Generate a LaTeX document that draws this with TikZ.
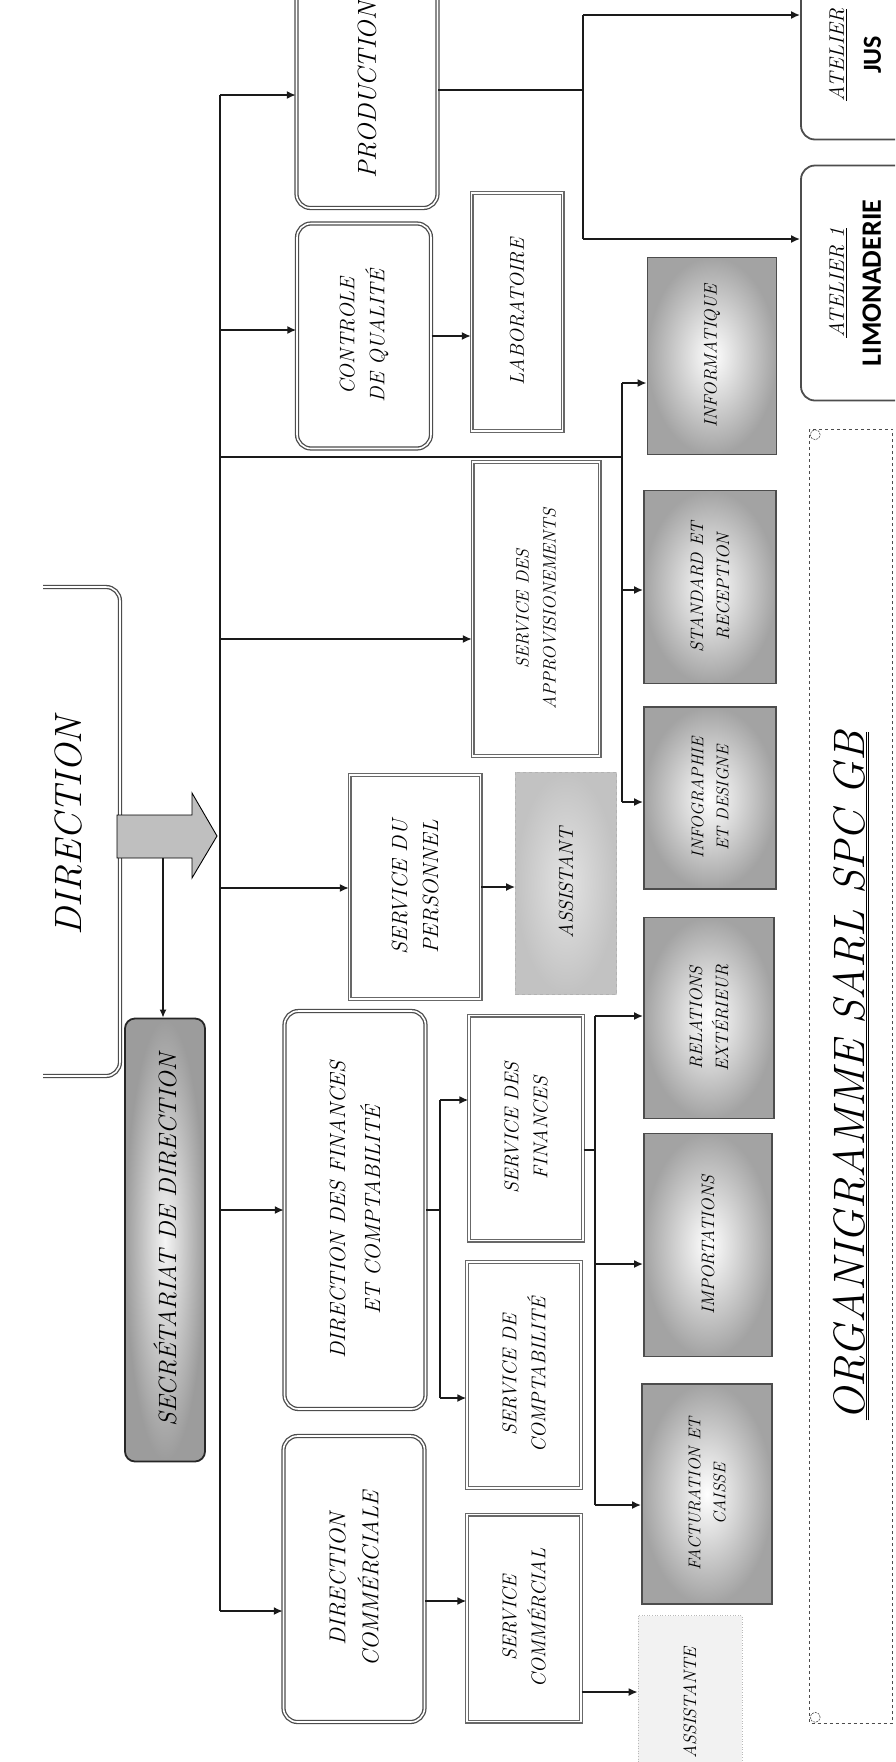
\documentclass[tikz,border=0pt]{standalone}
\usepackage{fontspec}
\newfontfamily\calib{Carlito}
\usetikzlibrary{arrows.meta}
\definecolor{FrameGray}{HTML}{4D4D4D}
\definecolor{WireBlack}{HTML}{1A1A1A}

\begin{document}
\begin{tikzpicture}[x=1pt,y=-1pt,
        txt/.style={rotate=90,align=center,inner sep=0pt,font={\itshape\fontsize{20}{29}\selectfont}},
        rbox/.style={txt,draw=FrameGray,line width=1.3pt,double=white,double distance=1.6pt,rounded corners=14pt},
        sbox/.style={txt,draw=FrameGray!85,line width=1.2pt,double=white,double distance=1.6pt},
        shbox/.style={txt,draw=FrameGray,line width=1.8pt,inner color=white,outer color=gray!72},
        secbox/.style={txt,draw=black!85,line width=1.8pt,rounded corners=10pt,inner color=gray!8,outer color=gray!78},
        abox/.style={txt,draw=gray!60,dashed,line width=0.6pt,inner color=gray!22,outer color=gray!48},
        lbox/.style={txt,draw=gray!55,dotted,line width=0.6pt,fill=gray!10},
        atbox/.style={txt,draw=FrameGray,line width=1.8pt,rounded corners=14pt},
        scroll/.style={draw=black!70,dashed,line width=0.6pt},
        dframe/.style={draw=FrameGray,line width=1.3pt,double=white,double distance=1.6pt,rounded corners=14pt},
        wire/.style={line width=2.4pt,draw=WireBlack},
        arr/.style={wire,-{Latex[length=9pt,width=8pt]}},
        thinarr/.style={line width=1.4pt,draw=WireBlack,-{Latex[length=8pt,width=7pt]}}
      ]
        \useasboundingbox (0,0) rectangle (895,1762);
        \clip (0,0) rectangle (895,1762);
        \fill[white] (0,0) rectangle (895,1762);

        % direction and secretariat
        \draw[dframe] (43,587) -- (120,587) -- (120,1076) -- (43,1076);
        \node[txt,font={\itshape\fontsize{38}{42}\selectfont}] (dir) at (69,826) {DIRECTION};
        \filldraw[draw=black,line width=0.9pt,fill=gray!50] (117,815) -- (192,815) -- (192,793) -- (217,836)
          -- (192,878) -- (192,858) -- (117,858) -- cycle;
        \coordinate (shaftBot) at (163,858);
        \node[secbox,minimum width=443pt,minimum height=80pt,font={\itshape\fontsize{25}{29}\selectfont}] (secr) at (165,1240) {SECRÉTARIAT DE DIRECTION};
        \draw[thinarr] (shaftBot) -- (shaftBot |- secr.east);

        % first level
        \node[rbox,minimum width=236pt,minimum height=141pt,font={\itshape\fontsize{26}{30}\selectfont}] (prod) at (367,90) {PRODUCTION};
        \node[rbox,minimum width=225pt,minimum height=134pt,font={\itshape\fontsize{21}{30}\selectfont}] (cq) at (364,336) {CONTROLE\\DE QUALITÉ};
        \node[sbox,minimum width=294pt,minimum height=127pt,font={\itshape\fontsize{18}{27}\selectfont}] (appro) at (536,609) {SERVICE DES\\APPROVISIONEMENTS};
        \node[sbox,minimum width=224pt,minimum height=131pt,font={\itshape\fontsize{22}{31}\selectfont}] (perso) at (415,887) {SERVICE DU\\PERSONNEL};
        \node[rbox,minimum width=398pt,minimum height=141pt,font={\itshape\fontsize{22}{35}\selectfont}] (dirfin) at (355,1210) {DIRECTION DES FINANCES\\ET COMPTABILITÉ};
        \node[rbox,minimum width=286pt,minimum height=141pt,font={\itshape\fontsize{23}{33}\selectfont}] (dircom) at (354,1579) {DIRECTION\\COMMÉRCIALE};

        % second level
        \node[sbox,minimum width=238pt,minimum height=91pt] (labo) at (517,312) {LABORATOIRE};
        \node[abox,minimum width=222pt,minimum height=101pt] (assist) at (566,883) {ASSISTANT};
        \node[sbox,minimum width=225pt,minimum height=114pt] (servfin) at (526,1128) {SERVICE DES\\FINANCES};
        \node[sbox,minimum width=226pt,minimum height=114pt] (compta) at (524,1375) {SERVICE DE\\COMPTABILITÉ};
        \node[sbox,minimum width=207pt,minimum height=114pt] (servcom) at (524,1618) {SERVICE\\COMMÉRCIAL};
        \node[lbox,minimum width=175pt,minimum height=104pt,font={\itshape\fontsize{18}{24}\selectfont}] (assistante) at (690,1703) {ASSISTANTE};

        % shaded services
        \node[shbox,minimum width=197pt,minimum height=129pt,font={\itshape\fontsize{18}{26}\selectfont}] (info) at (712,356) {INFORMATIQUE};
        \node[shbox,minimum width=193pt,minimum height=132pt,font={\itshape\fontsize{18}{26}\selectfont}] (standard) at (710,587) {STANDARD ET\\RECEPTION};
        \node[shbox,minimum width=182pt,minimum height=132pt,font={\itshape\fontsize{17}{25}\selectfont}] (infog) at (710,798) {INFOGRAPHIE\\ET DESIGNE};
        \node[shbox,minimum width=201pt,minimum height=130pt,font={\itshape\fontsize{18}{26}\selectfont}] (relations) at (709,1018) {RELATIONS\\EXTÉRIEUR};
        \node[shbox,minimum width=223pt,minimum height=128pt,font={\itshape\fontsize{18}{26}\selectfont}] (import) at (708,1245) {IMPORTATIONS};
        \node[shbox,minimum width=220pt,minimum height=130pt,font={\itshape\fontsize{17}{25}\selectfont}] (factu) at (707,1494) {FACTURATION ET\\CAISSE};

        % ateliers
        \node[atbox,minimum width=169pt,minimum height=108pt,font={\itshape\fontsize{21}{37}\selectfont}] (jus) at (855,55) {\underline{ATELIER}\\{\calib\upshape\bfseries\fontsize{26}{37}\selectfont JUS}};
        \node[atbox,minimum width=235pt,minimum height=108pt,font={\itshape\fontsize{21}{37}\selectfont}] (limo) at (855,283) {\underline{ATELIER 1}\\{\calib\upshape\bfseries\fontsize{28}{37}\selectfont LIMONADERIE}};

        % title
        \node[txt,scroll,minimum width=1294pt,minimum height=83pt,font={\itshape\fontsize{44}{50}\selectfont}] (title) at (851,1076) {\underline{\underline{ORGANIGRAMME SARL SPC GB}}};
        \draw[scroll,dash pattern=on 2pt off 1pt] ([shift={(6,6)}]title.north east) circle (5pt);
        \draw[scroll,dash pattern=on 2pt off 1pt] ([shift={(6,-6)}]title.north west) circle (5pt);

        % main trunk
        \coordinate (tProd) at (220,95);
        \coordinate (tCq) at (220,330);
        \coordinate (tInfo) at (220,457);
        \coordinate (tAppro) at (220,639);
        \coordinate (tPerso) at (220,888);
        \coordinate (tFin) at (220,1210);
        \coordinate (tCom) at (220,1611);
        \draw[wire] (tProd) -- (tCom);
        \draw[arr] (tProd) -- (tProd -| prod.north);
        \draw[arr] (tCq) -- (tCq -| cq.north);
        \draw[arr] (tAppro) -- (tAppro -| appro.north);
        \draw[arr] (tPerso) -- (tPerso -| perso.north);
        \draw[arr] (tFin) -- (tFin -| dirfin.north);
        \draw[arr] (tCom) -- (tCom -| dircom.north);

        % informatique group
        \coordinate (bInfoTop) at (622,383);
        \coordinate (bStd) at (622,590);
        \coordinate (bInfoBot) at (622,802);
        \draw[wire] (tInfo) -- (tInfo -| bInfoTop);
        \draw[wire] (bInfoTop) -- (bInfoBot);
        \draw[arr] (bInfoTop) -- (bInfoTop -| info.north);
        \draw[arr] (bStd) -- (bStd -| standard.north);
        \draw[arr] (bInfoBot) -- (bInfoBot -| infog.north);

        % production to ateliers
        \coordinate (aTop) at (583,15);
        \coordinate (aBot) at (583,239);
        \draw[wire] (prod.south) -- (prod.south -| aTop);
        \draw[wire] (aTop) -- (aBot);
        \draw[arr] (aTop) -- (aTop -| jus.north);
        \draw[arr] (aBot) -- (aBot -| limo.north);

        \draw[arr] (cq.south) -- (cq.south -| labo.north);
        \draw[arr] (perso.south) -- (perso.south -| assist.north);

        % finances
        \coordinate (fTop) at (440,1100);
        \coordinate (fBot) at (440,1398);
        \draw[wire] (dirfin.south) -- (dirfin.south -| fTop);
        \draw[wire] (fTop) -- (fBot);
        \draw[arr] (fTop) -- (fTop -| servfin.north);
        \draw[arr] (fBot) -- (fBot -| compta.north);

        \coordinate (gTop) at (595,1016);
        \coordinate (gImp) at (595,1264);
        \coordinate (gBot) at (595,1505);
        \draw[wire] ([yshift=-22pt]servfin.south) -- ([yshift=-22pt]servfin.south -| gTop);
        \draw[wire] (gTop) -- (gBot);
        \draw[arr] (gTop) -- (gTop -| relations.north);
        \draw[arr] (gImp) -- (gImp -| import.north);
        \draw[arr] (gBot) -- (gBot -| factu.north);

        % commercial
        \draw[arr] ([yshift=-22pt]dircom.south) -- ([yshift=-22pt]dircom.south -| servcom.north);
        \draw[arr] ([yshift=-74pt]servcom.south) -- ([yshift=-74pt]servcom.south -| assistante.north);
      \end{tikzpicture}
\end{document}
